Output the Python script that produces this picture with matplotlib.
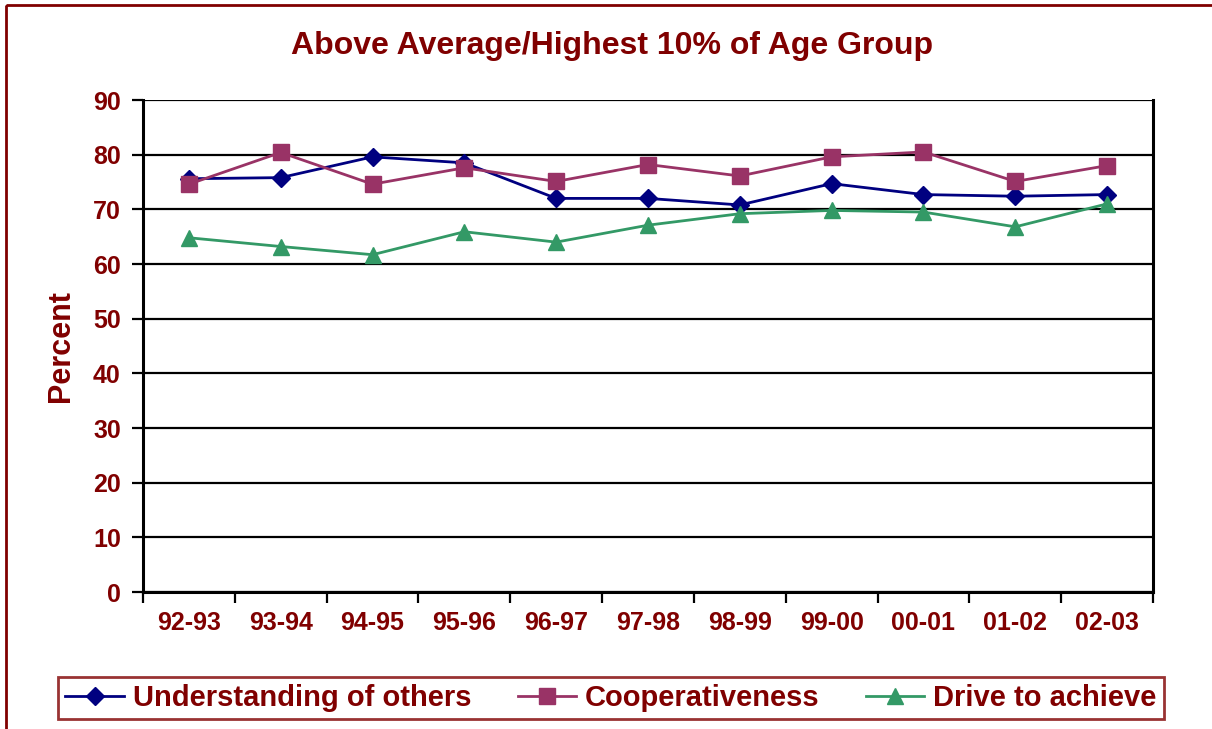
from matplotlib import pyplot as plt
from matplotlib.patches import Rectangle
from matplotlib.ticker import MultipleLocator, FixedLocator
import numpy as np

plt.rcParams['font.family'] = ['Liberation Sans', 'DejaVu Sans']
plt.rcParams['font.weight'] = 'bold'

years = ['92-93', '93-94', '94-95', '95-96', '96-97', '97-98',
         '98-99', '99-00', '00-01', '01-02', '02-03']
understanding = [75.6, 75.8, 79.6, 78.5, 72.0, 72.0, 70.8, 74.7, 72.7, 72.4, 72.7]
cooperativeness = [74.6, 80.4, 74.6, 77.6, 75.1, 78.2, 76.1, 79.6, 80.5, 75.1, 78.0]
drive = [64.8, 63.2, 61.7, 65.9, 64.0, 67.1, 69.2, 69.8, 69.5, 66.8, 71.0]

dark_red = '#800000'
W, H = 1212, 729
fig = plt.figure(figsize=(W / 100, H / 100), dpi=100)

# outer chart border (runs off right/bottom edge like the reference crop)
fig.patches.append(Rectangle((6 / W, 1 - 5 / H), 2, -2, transform=fig.transFigure,
                             fill=False, edgecolor=dark_red, lw=2))

ax = fig.add_axes([143 / W, 1 - 592 / H, (1153 - 143) / W, (592 - 100) / H])
x = np.arange(len(years))

series = [
    (understanding, 'Understanding of others', '#000080', 'D', 9),
    (cooperativeness, 'Cooperativeness', '#993366', 's', 11),
    (drive, 'Drive to achieve', '#339966', '^', 11),
]
handles = []
for vals, lab, col, mk, ms in series:
    h, = ax.plot(x, vals, color=col, marker=mk, markersize=ms, lw=2,
                 label=lab, clip_on=False, zorder=3)
    handles.append(h)

ax.set_xlim(-0.5, len(years) - 0.5)
ax.set_ylim(0, 90)
ax.yaxis.set_major_locator(MultipleLocator(10))
ax.grid(axis='y', color='black', lw=1.6)
ax.set_axisbelow(True)
for s in ax.spines.values():
    s.set_linewidth(2.2)
ax.spines['top'].set_visible(False)

ax.set_xticks(x)
ax.set_xticklabels(years)
ax.xaxis.set_minor_locator(FixedLocator(np.arange(-0.5, len(years), 1.0)))
ax.tick_params(axis='x', which='major', length=0, pad=14, labelsize=18, labelcolor=dark_red)
ax.tick_params(axis='x', which='minor', length=8, width=1.6, direction='out')
ax.tick_params(axis='y', length=8, width=1.6, direction='out', pad=8,
               labelsize=18, labelcolor=dark_red)
for t in ax.get_xticklabels() + ax.get_yticklabels():
    t.set_fontweight('bold')

ax.set_ylabel('Percent', fontsize=22, fontweight='bold', color=dark_red, labelpad=12)
fig.text(612 / W, 1 - 46 / H, 'Above Average/Highest 10% of Age Group',
         ha='center', va='center', fontsize=23, fontweight='bold', color=dark_red)

leg = fig.legend(handles=handles, loc='center', ncol=3,
                 bbox_to_anchor=(611 / W, 1 - 698 / H),
                 prop={'size': 21, 'weight': 'bold'}, frameon=True, fancybox=False,
                 handlelength=2.0, handletextpad=0.3, columnspacing=1.6,
                 borderpad=0.25, borderaxespad=0)
leg.get_frame().set_edgecolor(dark_red)
leg.get_frame().set_linewidth(2)
for t in leg.get_texts():
    t.set_color(dark_red)

fig.savefig('out.png', dpi=100)
